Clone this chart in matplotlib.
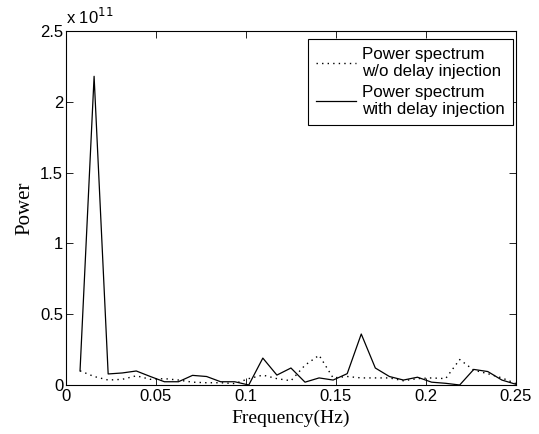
import matplotlib as mpl
mpl.use('agg')
import matplotlib.pyplot as plt
import numpy as np
from matplotlib.ticker import FuncFormatter

# frequency bins k/128 Hz, k = 1..32
freq = np.arange(1, 33) / 128.0

# power in units of 1e11
p_without = [0.10, 0.06, 0.035, 0.04, 0.065, 0.04, 0.045, 0.035, 0.02, 0.016,
             0.016, 0.01, 0.045, 0.07, 0.045, 0.03, 0.14, 0.21, 0.05, 0.06,
             0.05, 0.05, 0.05, 0.03, 0.045, 0.05, 0.045, 0.18, 0.105, 0.08,
             0.05, 0.01]
p_with = [0.10, 2.18, 0.078, 0.085, 0.099, 0.06, 0.023, 0.023, 0.068, 0.06,
          0.023, 0.023, 0.0, 0.19, 0.07, 0.12, 0.02, 0.05, 0.035, 0.08,
          0.36, 0.12, 0.06, 0.035, 0.055, 0.02, 0.012, 0.0, 0.11, 0.095,
          0.035, 0.005]

sans = ['Liberation Sans', 'DejaVu Sans']
serif = ['Liberation Serif', 'DejaVu Serif']
plt.rcParams['font.family'] = sans

fig = plt.figure(figsize=(5.39, 4.34), dpi=100)
ax = fig.add_axes([0.1224, 0.1129, 0.8348, 0.8157])

ax.plot(freq, p_without, color='k', linestyle=(0, (1, 3)), linewidth=1.0,
        label="Power spectrum\nw/o delay injection")
ax.plot(freq, p_with, color='k', linestyle='-', linewidth=0.9,
        label="Power spectrum\nwith delay injection")

ax.set_xlim(0, 0.25)
ax.set_ylim(0, 2.5)
ax.set_xticks([0, 0.05, 0.1, 0.15, 0.2, 0.25])
ax.set_yticks([0, 0.5, 1, 1.5, 2, 2.5])
fmt = FuncFormatter(lambda v, p: '%g' % v)
ax.xaxis.set_major_formatter(fmt)
ax.yaxis.set_major_formatter(fmt)
ax.tick_params(direction='in', top=True, right=True, labelsize=12, length=5, width=0.6)
ax.tick_params(axis='x', pad=3)
ax.tick_params(axis='y', pad=2)
for s in ax.spines.values():
    s.set_linewidth(0.8)

ax.text(0.0, 1.012, r'x 10$^{11}$', transform=ax.transAxes, fontsize=12,
        ha='left', va='bottom')

ax.set_xlabel("Frequency(Hz)", family=serif, fontsize=14, labelpad=4)
ax.set_ylabel("Power", family=serif, fontsize=15, labelpad=4)

leg = ax.legend(loc='upper right', bbox_to_anchor=(0.993, 0.977), fontsize=12.2,
                handlelength=2.4, handletextpad=0.35, borderpad=0.45,
                borderaxespad=0, labelspacing=0.35, fancybox=False,
                framealpha=1, edgecolor='k')
leg.get_frame().set_linewidth(0.8)

fig.savefig("out.png", dpi=100)
